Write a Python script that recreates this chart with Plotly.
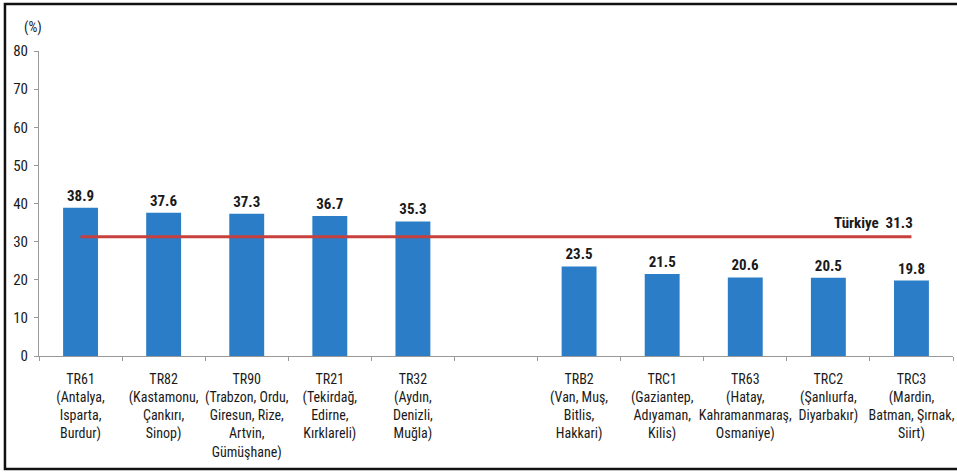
import plotly.graph_objects as go

categories = [
    "TR61<br>(Antalya,<br>Isparta,<br>Burdur)",
    "TR82<br>(Kastamonu,<br>Çankırı,<br>Sinop)",
    "TR90<br>(Trabzon, Ordu,<br>Giresun, Rize,<br>Artvin,<br>Gümüşhane)",
    "TR21<br>(Tekirdağ,<br>Edirne,<br>Kırklareli)",
    "TR32<br>(Aydın,<br>Denizli,<br>Muğla)",
    " ",
    "TRB2<br>(Van, Muş,<br>Bitlis,<br>Hakkari)",
    "TRC1<br>(Gaziantep,<br>Adıyaman,<br>Kilis)",
    "TR63<br>(Hatay,<br>Kahramanmaraş,<br>Osmaniye)",
    "TRC2<br>(Şanlıurfa,<br>Diyarbakır)",
    "TRC3<br>(Mardin,<br>Batman, Şırnak,<br>Siirt)",
]
values = [38.9, 37.6, 37.3, 36.7, 35.3, None, 23.5, 21.5, 20.6, 20.5, 19.8]
value_labels = ["38.9", "37.6", "37.3", "36.7", "35.3", "", "23.5", "21.5", "20.6", "20.5", "19.8"]
turkiye_value = 31.3
turkiye_label = "Türkiye  31.3"
y_ticks = [0, 10, 20, 30, 40, 50, 60, 70, 80]

FONT = "Roboto Condensed, Arial Narrow, Liberation Sans, Arial, sans-serif"
BLUE = "#2A7DC6"
RED = "#C8403D"

fig = go.Figure()
fig.add_trace(go.Bar(
    x=categories, y=values, width=0.42,
    marker=dict(color=BLUE, line=dict(width=0)),
    text=value_labels, textposition="outside",
    textfont=dict(family=FONT, size=15, color="#1a1a1a", weight="bold"),
    cliponaxis=False, showlegend=False, hoverinfo="skip",
))
fig.add_trace(go.Scatter(
    x=[categories[0], categories[-1]], y=[turkiye_value, turkiye_value],
    mode="lines", line=dict(color=RED, width=3), showlegend=False, hoverinfo="skip",
))
fig.add_annotation(
    x=categories[-1], y=turkiye_value, text=turkiye_label, showarrow=False,
    xanchor="right", yanchor="bottom", yshift=3, xshift=4,
    font=dict(family=FONT, size=15, color="#1a1a1a", weight="bold"),
)
fig.add_annotation(
    xref="paper", yref="paper", x=-6 / 913, y=1.0, yshift=24,
    text="(%)", showarrow=False, xanchor="center", yanchor="middle",
    font=dict(family=FONT, size=14, color="#1a1a1a"),
)
fig.add_shape(type="rect", xref="paper", yref="paper",
              x0=-34 / 913, x1=1.05, y0=-113 / 305, y1=1 + 47 / 305,
              line=dict(color="#111111", width=2.5), fillcolor="rgba(0,0,0,0)")

fig.update_layout(
    width=957, height=472,
    margin=dict(l=39, r=4, t=51, b=116, autoexpand=False),
    paper_bgcolor="white", plot_bgcolor="white",
    font=dict(family=FONT, size=14, color="#1a1a1a"),
    xaxis=dict(
        type="category", categoryorder="array", categoryarray=categories,
        tickson="boundaries", ticks="outside", ticklen=4, tickcolor="#999999",
        showline=True, linecolor="#999999", linewidth=1, tickangle=0, automargin=False,
        showgrid=False, tickfont=dict(family=FONT, size=14, color="#1a1a1a"),
        ticklabelstandoff=10,
        range=[-0.5, len(categories) - 0.5], fixedrange=True,
    ),
    yaxis=dict(
        range=[0, 80], tickvals=y_ticks, ticks="outside", ticklen=4, tickcolor="#999999",
        showline=True, linecolor="#999999", linewidth=1, showgrid=False, zeroline=False,
        automargin=False,
        tickfont=dict(family=FONT, size=15, color="#1a1a1a"), ticklabelstandoff=3,
    ),
)
fig.write_html("out.html")
